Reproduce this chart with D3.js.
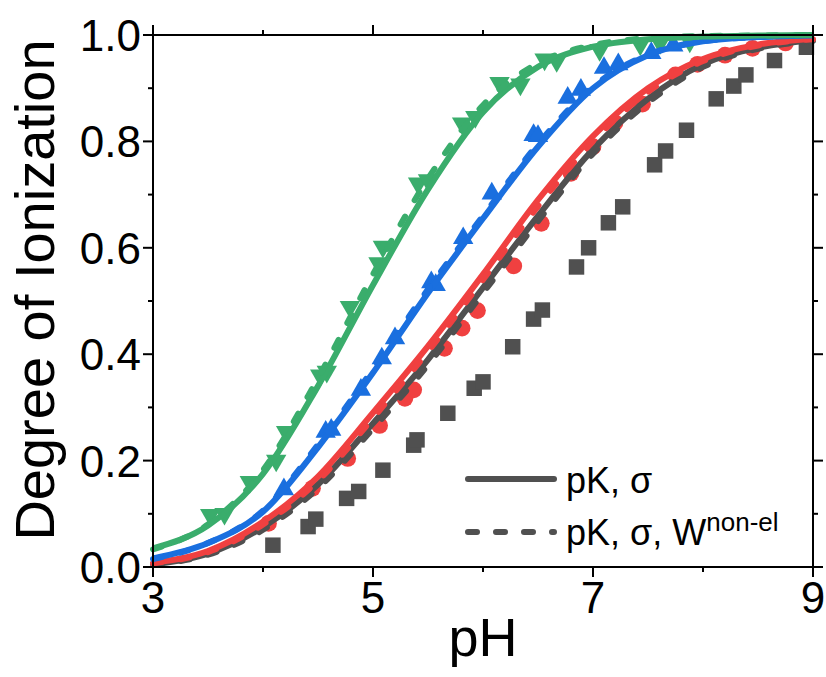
<!DOCTYPE html>
<html>
<head>
<meta charset="utf-8">
<script src="https://cdn.jsdelivr.net/npm/d3@7"></script>
<style>
  body { margin: 0; background: #fff; }
  text { font-family: "Liberation Sans", Arial, sans-serif; fill: #000; }
</style>
</head>
<body>
<div id="chart"></div>
<script>
// pH grid for the fitted curves
const fitPH = [3, 3.5, 4, 4.5, 5, 5.5, 6, 6.5, 7, 7.5, 8, 8.5, 9];

// fits: solid = pK, sigma ; dashed = pK, sigma, W non-el
const greenFit  = [0.035, 0.078, 0.175, 0.34, 0.53, 0.71, 0.855, 0.94, 0.978, 0.992, 0.997, 0.999, 1.0];
const greenFitW = [0.033, 0.080, 0.182, 0.355, 0.55, 0.73, 0.868, 0.947, 0.981, 0.994, 0.998, 0.999, 1.0];
const blueFit   = [0.016, 0.045, 0.104, 0.225, 0.365, 0.515, 0.655, 0.79, 0.90, 0.962, 0.988, 0.996, 0.999];
const blueFitW  = [0.015, 0.045, 0.106, 0.23, 0.372, 0.522, 0.66, 0.795, 0.903, 0.963, 0.988, 0.996, 0.999];
const redFit    = [0.008, 0.030, 0.085, 0.17, 0.29, 0.415, 0.55, 0.69, 0.81, 0.90, 0.955, 0.982, 0.993];
const redFitW   = [0.007, 0.028, 0.080, 0.162, 0.28, 0.405, 0.54, 0.678, 0.80, 0.893, 0.951, 0.98, 0.992];
const grayFit   = [0.005, 0.025, 0.075, 0.155, 0.27, 0.39, 0.525, 0.66, 0.785, 0.88, 0.945, 0.976, 0.99];
const grayFitW  = [0.005, 0.023, 0.070, 0.148, 0.26, 0.38, 0.515, 0.65, 0.777, 0.873, 0.94, 0.974, 0.989];

// measured points [pH, degree of ionization]
const greenPts = [[3.52,0.098],[3.65,0.10],[3.88,0.16],[4.12,0.20],[4.21,0.254],[4.52,0.36],[4.58,0.367],
  [4.79,0.489],[5.05,0.571],[5.09,0.602],[5.41,0.721],[5.50,0.727],[5.81,0.834],[5.93,0.846],[6.15,0.91],
  [6.34,0.907],[6.56,0.954],[6.67,0.951],[7.06,0.972],[7.43,0.982],[7.61,0.985],[7.88,0.988]];
const bluePts = [[4.19,0.146],[4.57,0.254],[4.62,0.258],[4.89,0.333],[5.08,0.392],[5.20,0.43],[5.53,0.535],
  [5.57,0.53],[5.82,0.618],[6.08,0.702],[6.46,0.812],[6.50,0.81],[6.77,0.882],[6.89,0.897],[7.10,0.938],
  [7.23,0.945],[7.53,0.966],[7.73,0.98]];
const redPts = [[4.05,0.082],[4.45,0.148],[4.77,0.204],[5.06,0.266],[5.29,0.317],[5.37,0.333],[5.65,0.411],
  [5.81,0.449],[5.95,0.482],[6.28,0.566],[6.53,0.646],[6.80,0.74],[7.00,0.79],[7.20,0.835],[7.45,0.87],
  [7.75,0.925],[7.95,0.945],[8.20,0.962],[8.45,0.975],[8.75,0.985]];
const grayPts = [[4.09,0.041],[4.41,0.076],[4.48,0.09],[4.76,0.129],[4.87,0.142],[5.09,0.182],[5.37,0.229],
  [5.40,0.239],[5.68,0.289],[5.92,0.336],[6.00,0.348],[6.27,0.414],[6.46,0.466],[6.54,0.483],[6.85,0.564],
  [6.96,0.60],[7.14,0.647],[7.27,0.677],[7.56,0.756],[7.66,0.782],[7.85,0.821],[8.12,0.88],[8.28,0.904],
  [8.39,0.925],[8.65,0.952],[8.94,0.977]];

const xMajor = [3, 5, 7, 9];
const xMinor = [4, 6, 8];
const yMajor = [0, 0.2, 0.4, 0.6, 0.8, 1.0];
const yMinor = [0.1, 0.3, 0.5, 0.7, 0.9];
const legendLabels = ['pK, \u03c3', 'pK, \u03c3, W'];

const width = 826, height = 677;
const pL = 153, pR = 813, pT = 35, pB = 567;

const svg = d3.select('#chart').append('svg')
  .attr('width', width)
  .attr('height', height);

const x = d3.scaleLinear().domain([3, 9]).range([pL, pR]);
const y = d3.scaleLinear().domain([0, 1]).range([pB, pT]);

const series = [
  { color: '#505050', fit: grayFit,  fitW: grayFitW,  pts: grayPts,  sym: d3.symbolSquare,   size: 240, rot: 0 },
  { color: '#f04040', fit: redFit,   fitW: redFitW,   pts: redPts,   sym: d3.symbolCircle,   size: 220, rot: 0 },
  { color: '#1a6fdf', fit: blueFit,  fitW: blueFitW,  pts: bluePts,  sym: d3.symbolTriangle, size: 180, rot: 0 },
  { color: '#3aad6c', fit: greenFit, fitW: greenFitW, pts: greenPts, sym: d3.symbolTriangle, size: 180, rot: 180 }
];

const line = d3.line()
  .x(d => x(d[0]))
  .y(d => y(d[1]))
  .curve(d3.curveMonotoneX);

const plot = svg.append('g');

// markers first, curves over them
series.forEach(s => {
  plot.append('g')
    .selectAll('path')
    .data(s.pts)
    .enter().append('path')
    .attr('d', d3.symbol().type(s.sym).size(s.size))
    .attr('transform', d => `translate(${x(d[0])},${y(d[1])}) rotate(${s.rot})`)
    .attr('fill', s.color);
});

series.forEach(s => {
  plot.append('path')
    .datum(fitPH.map((p, i) => [p, s.fit[i]]))
    .attr('d', line)
    .attr('fill', 'none')
    .attr('stroke', s.color)
    .attr('stroke-width', 6);
  plot.append('path')
    .datum(fitPH.map((p, i) => [p, s.fitW[i]]))
    .attr('d', line)
    .attr('fill', 'none')
    .attr('stroke', s.color)
    .attr('stroke-width', 6)
    .attr('stroke-linecap', 'round')
    .attr('stroke-dasharray', '9,19');
});

// frame with outward ticks on all four sides
function ticks(g, scale, vals, len, orient) {
  const horiz = orient === 'b' || orient === 't';
  g.selectAll(null).data(vals).enter().append('line')
    .attr('x1', d => horiz ? scale(d) : (orient === 'l' ? pL : pR))
    .attr('x2', d => horiz ? scale(d) : (orient === 'l' ? pL - len : pR + len))
    .attr('y1', d => !horiz ? scale(d) : (orient === 'b' ? pB : pT))
    .attr('y2', d => !horiz ? scale(d) : (orient === 'b' ? pB + len : pT - len))
    .attr('stroke', '#000')
    .attr('stroke-width', 2);
}

const ax = svg.append('g');
ax.append('rect')
  .attr('x', pL).attr('y', pT)
  .attr('width', pR - pL).attr('height', pB - pT)
  .attr('fill', 'none').attr('stroke', '#000').attr('stroke-width', 2);
['b', 't'].forEach(o => { ticks(ax, x, xMajor, 10, o); ticks(ax, x, xMinor, 5, o); });
['l', 'r'].forEach(o => { ticks(ax, y, yMajor, 10, o); ticks(ax, y, yMinor, 5, o); });

ax.selectAll(null).data(xMajor).enter().append('text')
  .attr('x', d => x(d))
  .attr('y', 613)
  .attr('text-anchor', 'middle')
  .style('font-size', '44px')
  .text(d => d);

ax.selectAll(null).data(yMajor).enter().append('text')
  .attr('x', 141)
  .attr('y', d => y(d) + 16)
  .attr('text-anchor', 'end')
  .style('font-size', '44px')
  .text(d => d.toFixed(1));

svg.append('text')
  .attr('x', (pL + pR) / 2)
  .attr('y', 656)
  .attr('text-anchor', 'middle')
  .style('font-size', '54px')
  .text('pH');

svg.append('text')
  .attr('transform', `translate(54,290) rotate(-90)`)
  .attr('text-anchor', 'middle')
  .style('font-size', '56px')
  .text('Degree of Ionization');

// legend
const leg = svg.append('g');
leg.append('line')
  .attr('x1', 468).attr('x2', 554).attr('y1', 479).attr('y2', 479)
  .attr('stroke', '#505050').attr('stroke-width', 6).attr('stroke-linecap', 'round');
leg.append('line')
  .attr('x1', 468).attr('x2', 554).attr('y1', 532).attr('y2', 532)
  .attr('stroke', '#505050').attr('stroke-width', 6).attr('stroke-linecap', 'round')
  .attr('stroke-dasharray', '9,19');
leg.append('text')
  .attr('x', 566).attr('y', 493)
  .style('font-size', '36px')
  .text(legendLabels[0]);
const t2 = leg.append('text')
  .attr('x', 566).attr('y', 545)
  .style('font-size', '36px')
  .text(legendLabels[1]);
t2.append('tspan')
  .attr('dy', -14)
  .style('font-size', '26px')
  .text('non-el');
</script>
</body>
</html>
